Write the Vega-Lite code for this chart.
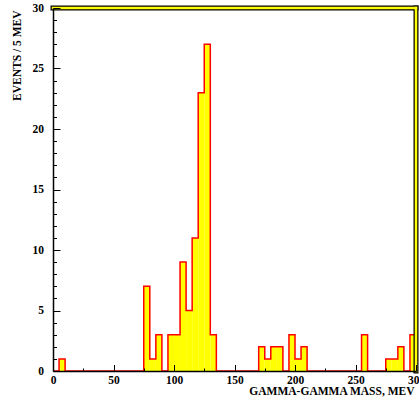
{
  "$schema": "https://vega.github.io/schema/vega-lite/v6.json",
  "width": 363,
  "height": 363,
  "autosize": "none",
  "padding": {"left": 53, "top": 8, "right": 3, "bottom": 43},
  "background": "white",
  "config": {"view": {"stroke": null}, "font": "Liberation Serif", "axis": {"labelOverlap": false, "labelFlush": false, "labelBound": false}},
  "data": {"values": [
    {"lo": 0, "hi": 5, "n": 0}, {"lo": 5, "hi": 10, "n": 1}, {"lo": 10, "hi": 15, "n": 0}, {"lo": 15, "hi": 20, "n": 0},
    {"lo": 20, "hi": 25, "n": 0}, {"lo": 25, "hi": 30, "n": 0}, {"lo": 30, "hi": 35, "n": 0}, {"lo": 35, "hi": 40, "n": 0},
    {"lo": 40, "hi": 45, "n": 0}, {"lo": 45, "hi": 50, "n": 0}, {"lo": 50, "hi": 55, "n": 0}, {"lo": 55, "hi": 60, "n": 0},
    {"lo": 60, "hi": 65, "n": 0}, {"lo": 65, "hi": 70, "n": 0}, {"lo": 70, "hi": 75, "n": 0}, {"lo": 75, "hi": 80, "n": 7},
    {"lo": 80, "hi": 85, "n": 1}, {"lo": 85, "hi": 90, "n": 3}, {"lo": 90, "hi": 95, "n": 0}, {"lo": 95, "hi": 100, "n": 3},
    {"lo": 100, "hi": 105, "n": 3}, {"lo": 105, "hi": 110, "n": 9}, {"lo": 110, "hi": 115, "n": 5}, {"lo": 115, "hi": 120, "n": 11},
    {"lo": 120, "hi": 125, "n": 23}, {"lo": 125, "hi": 130, "n": 27}, {"lo": 130, "hi": 135, "n": 3}, {"lo": 135, "hi": 140, "n": 0},
    {"lo": 140, "hi": 145, "n": 0}, {"lo": 145, "hi": 150, "n": 0}, {"lo": 150, "hi": 155, "n": 0}, {"lo": 155, "hi": 160, "n": 0},
    {"lo": 160, "hi": 165, "n": 0}, {"lo": 165, "hi": 170, "n": 0}, {"lo": 170, "hi": 175, "n": 2}, {"lo": 175, "hi": 180, "n": 1},
    {"lo": 180, "hi": 185, "n": 2}, {"lo": 185, "hi": 190, "n": 2}, {"lo": 190, "hi": 195, "n": 0}, {"lo": 195, "hi": 200, "n": 3},
    {"lo": 200, "hi": 205, "n": 1}, {"lo": 205, "hi": 210, "n": 2}, {"lo": 210, "hi": 215, "n": 0}, {"lo": 215, "hi": 220, "n": 0},
    {"lo": 220, "hi": 225, "n": 0}, {"lo": 225, "hi": 230, "n": 0}, {"lo": 230, "hi": 235, "n": 0}, {"lo": 235, "hi": 240, "n": 0},
    {"lo": 240, "hi": 245, "n": 0}, {"lo": 245, "hi": 250, "n": 0}, {"lo": 250, "hi": 255, "n": 0}, {"lo": 255, "hi": 260, "n": 3},
    {"lo": 260, "hi": 265, "n": 0}, {"lo": 265, "hi": 270, "n": 0}, {"lo": 270, "hi": 275, "n": 0}, {"lo": 275, "hi": 280, "n": 1},
    {"lo": 280, "hi": 285, "n": 1}, {"lo": 285, "hi": 290, "n": 2}, {"lo": 290, "hi": 295, "n": 0}, {"lo": 295, "hi": 300, "n": 3}
  ]},
  "layer": [
    {
      "mark": {"type": "bar", "color": "#ffff00"},
      "encoding": {
        "x": {"field": "lo", "type": "quantitative",
          "scale": {"domain": [0, 300], "nice": false},
          "axis": {
            "values": [0, 25, 50, 75, 100, 125, 150, 175, 200, 225, 250, 275, 300],
            "tickCount": 100, "format": "d",
            "labelExpr": "datum.value % 50 === 0 ? datum.label : ''",
            "tickSize": {"condition": {"test": "datum.value % 50 === 0", "value": -6.5}, "value": -3},
            "tickColor": "black", "tickWidth": 1,
            "domainColor": "black", "domainWidth": 1.5,
            "labelFont": "Liberation Serif", "labelFontWeight": "bold", "labelFontSize": 11.5, "labelColor": "black",
            "labelPadding": 10, "labelBaseline": "top", "labelFlush": false, "labelOverlap": false, "labelBound": false,
            "grid": false, "zindex": 1,
            "title": "GAMMA-GAMMA MASS, MEV",
            "titleFont": "Liberation Serif", "titleFontWeight": "bold", "titleFontSize": 11.5, "titleColor": "black",
            "titleX": 361, "titleY": 20, "titleAlign": "right", "titleBaseline": "middle"
          }
        },
        "x2": {"field": "hi"},
        "y": {"field": "n", "type": "quantitative", "stack": null,
          "scale": {"domain": [0, 30], "nice": false},
          "axis": {
            "values": [0,1,2,3,4,5,6,7,8,9,10,11,12,13,14,15,16,17,18,19,20,21,22,23,24,25,26,27,28,29,30],
            "tickCount": 100, "format": "d",
            "labelExpr": "datum.value % 5 === 0 ? datum.label : ''",
            "tickSize": {"condition": {"test": "datum.value % 5 === 0", "value": -7}, "value": -3.5},
            "tickColor": "black", "tickWidth": 1,
            "domainColor": "black", "domainWidth": 1.5,
            "labelFont": "Liberation Serif", "labelFontWeight": "bold", "labelFontSize": 11.5, "labelColor": "black",
            "labelPadding": 16.5, "labelFlush": false, "labelOverlap": false, "labelBound": false,
            "grid": false, "zindex": 1,
            "title": "EVENTS / 5 MEV",
            "titleFont": "Liberation Serif", "titleFontWeight": "bold", "titleFontSize": 11.5, "titleColor": "black",
            "titleX": -36, "titleY": 2, "titleAngle": -90, "titleAlign": "right", "titleBaseline": "middle"
          }
        },
        "y2": {"datum": 0}
      }
    },
    {
      "transform": [{"fold": ["lo", "hi"], "as": ["edge", "mass"]}],
      "mark": {"type": "line", "color": "#ff0000", "strokeWidth": 1.5},
      "encoding": {
        "x": {"field": "mass", "type": "quantitative"},
        "y": {"field": "n", "type": "quantitative"},
        "order": [{"field": "mass", "type": "quantitative"}, {"field": "edge", "type": "ordinal"}]
      }
    },
    {
      "data": {"values": [{}]},
      "mark": {"type": "rule", "color": "black", "strokeWidth": 5, "strokeCap": "square"},
      "encoding": {"x": {"datum": 0}, "x2": {"datum": 300}, "y": {"datum": 30}}
    },
    {
      "data": {"values": [{}]},
      "mark": {"type": "rule", "color": "black", "strokeWidth": 5, "strokeCap": "square"},
      "encoding": {"x": {"datum": 300}, "y": {"datum": 0}, "y2": {"datum": 30}}
    },
    {
      "data": {"values": [{}]},
      "mark": {"type": "rule", "color": "#ffff00", "strokeWidth": 2.5, "strokeCap": "square"},
      "encoding": {"x": {"datum": 0}, "x2": {"datum": 300}, "y": {"datum": 30}}
    },
    {
      "data": {"values": [{}]},
      "mark": {"type": "rule", "color": "#ffff00", "strokeWidth": 2.5, "strokeCap": "square"},
      "encoding": {"x": {"datum": 300}, "y": {"datum": 0}, "y2": {"datum": 30}}
    }
  ]
}
